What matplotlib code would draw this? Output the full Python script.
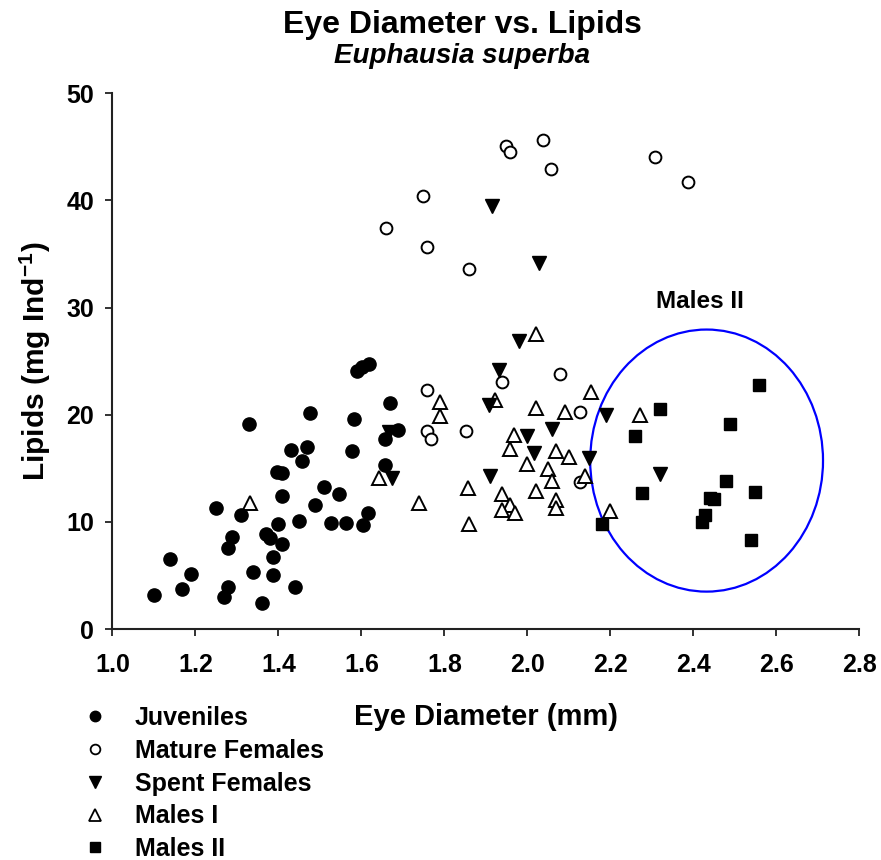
import matplotlib
matplotlib.use("Agg")
import matplotlib.pyplot as plt
from matplotlib.lines import Line2D
from matplotlib.patches import Ellipse

plt.rcParams['font.family'] = ['Liberation Sans', 'DejaVu Sans']
plt.rcParams['font.weight'] = 'bold'
plt.rcParams['mathtext.fontset'] = 'custom'
plt.rcParams['mathtext.rm'] = 'Liberation Sans:bold'
plt.rcParams['mathtext.bf'] = 'Liberation Sans:bold'
plt.rcParams['mathtext.it'] = 'Liberation Sans:bold:italic'

# ---------------- data ----------------
juv_x = [1.329, 1.476, 1.430, 1.468, 1.458, 1.397, 1.410, 1.409, 1.489, 1.250,
         1.309, 1.399, 1.449, 1.289, 1.279, 1.370, 1.379, 1.409, 1.388, 1.139,
         1.190, 1.339, 1.388, 1.169, 1.279, 1.269, 1.439, 1.100, 1.360, 1.590,
         1.602, 1.619, 1.668, 1.583, 1.689, 1.658, 1.578, 1.658, 1.509, 1.547,
         1.528, 1.562, 1.615, 1.603]
juv_y = [19.16, 20.2, 16.7, 17.0, 15.7, 14.7, 14.55, 12.4, 11.6, 11.3,
         10.65, 9.78, 10.1, 8.6, 7.6, 8.85, 8.47, 7.9, 6.76, 6.54,
         5.1, 5.3, 5.05, 3.74, 3.9, 3.0, 3.95, 3.18, 2.46, 24.05,
         24.45, 24.7, 21.06, 19.6, 18.6, 17.7, 16.6, 15.3, 13.3, 12.6,
         9.93, 9.93, 10.8, 9.7]

mat_x = [1.948, 1.958, 2.037, 2.057, 2.307, 2.387, 1.749, 1.659, 1.758, 1.859,
         1.758, 1.758, 1.769, 1.852, 1.938, 2.078, 2.127, 2.127]
mat_y = [45.1, 44.5, 45.6, 42.9, 44.06, 41.7, 40.4, 37.4, 35.7, 33.6,
         22.3, 18.5, 17.7, 18.5, 23.05, 23.8, 20.3, 13.7]

spent_x = [1.916, 2.029, 1.979, 1.931, 1.907, 1.999, 2.059, 2.017, 2.149, 1.909,
           2.190, 2.319, 1.667, 1.675]
spent_y = [39.5, 34.2, 26.9, 24.2, 20.9, 17.97, 18.7, 16.4, 15.95, 14.25,
           20.0, 14.45, 18.4, 14.1]

m1_x = [1.740, 1.642, 1.790, 1.790, 2.021, 1.921, 2.021, 2.090, 2.154, 1.969,
        1.959, 2.070, 2.100, 1.999, 2.049, 2.059, 2.140, 1.856, 1.939, 2.021,
        2.070, 2.070, 1.959, 1.939, 1.971, 1.860, 2.200, 2.271, 1.332]
m1_y = [11.75, 14.1, 21.2, 19.9, 27.5, 21.4, 20.6, 20.3, 22.1, 18.07,
        16.8, 16.6, 16.1, 15.4, 14.9, 13.8, 14.3, 13.2, 12.6, 12.9,
        12.0, 11.3, 11.6, 11.1, 10.8, 9.8, 11.0, 20.0, 11.8]

m2_x = [2.319, 2.559, 2.489, 2.259, 2.277, 2.479, 2.440, 2.450, 2.549, 2.429,
        2.420, 2.539, 2.181]
m2_y = [20.56, 22.8, 19.16, 17.97, 12.7, 13.77, 12.27, 12.15, 12.75, 10.6,
        9.97, 8.3, 9.8]

group_labels = ["Juveniles", "Mature Females", "Spent Females", "Males I", "Males II"]
x_ticks = [1.0, 1.2, 1.4, 1.6, 1.8, 2.0, 2.2, 2.4, 2.6, 2.8]
y_ticks = [0, 10, 20, 30, 40, 50]
ellipse_center = (2.432, 15.72)
ellipse_w, ellipse_h = 0.561, 24.46

# ---------------- figure ----------------
fig = plt.figure(figsize=(8.81, 8.6), dpi=100)
ax = fig.add_axes([0.1275, 0.2686, 0.8479, 0.6229])

ax.plot(juv_x, juv_y, 'o', ms=9.5, mfc='black', mec='black', mew=1, ls='none')
ax.plot(mat_x, mat_y, 'o', ms=8.5, mfc='white', mec='black', mew=1.4, ls='none')
ax.plot(m1_x, m1_y, '^', ms=10, mfc='white', mec='black', mew=1.4, ls='none')
ax.plot(spent_x, spent_y, 'v', ms=10, mfc='black', mec='black', mew=1, ls='none')
ax.plot(m2_x, m2_y, 's', ms=9, mfc='black', mec='black', mew=1, ls='none')

ax.add_patch(Ellipse(ellipse_center, ellipse_w, ellipse_h, fill=False,
                     edgecolor='#0000ff', lw=1.6))
ax.text(2.416, 30.6, "Males II", fontsize=17.5, fontweight='bold',
        ha='center', va='center')

ax.set_xlim(1.0, 2.8)
ax.set_ylim(0, 50)
ax.set_xticks(x_ticks)
ax.set_xticklabels([f"{v:.1f}" for v in x_ticks])
ax.set_yticks(y_ticks)
ax.set_yticklabels([str(v) for v in y_ticks])
for s in ['top', 'right']:
    ax.spines[s].set_visible(False)
for s in ['left', 'bottom']:
    ax.spines[s].set_linewidth(1.5)
    ax.spines[s].set_color('#222222')
ax.tick_params(axis='both', direction='out', length=5, width=1.3,
               labelsize=18, color='#222222')
ax.tick_params(axis='x', pad=12)
ax.tick_params(axis='y', pad=8)
for lab in ax.get_xticklabels() + ax.get_yticklabels():
    lab.set_fontweight('bold')

ax.set_xlabel("Eye Diameter (mm)", fontsize=21, fontweight='bold', labelpad=19)
ax.set_ylabel(r"Lipids (mg Ind$^{\mathbf{-1}}$)", fontsize=21.5, fontweight='bold',
              labelpad=10)

fig.text(462 / 881, 1 - 33 / 860, "Eye Diameter vs. Lipids", fontsize=23,
         fontweight='bold', ha='center', va='baseline')
fig.text(462 / 881, 1 - 63 / 860, "Euphausia superba", fontsize=20,
         fontweight='bold', style='italic', ha='center', va='baseline')

handles = [
    Line2D([], [], marker='o', ls='none', ms=7.5, mfc='black', mec='black'),
    Line2D([], [], marker='o', ls='none', ms=7, mfc='white', mec='black', mew=1.3),
    Line2D([], [], marker='v', ls='none', ms=8, mfc='black', mec='black'),
    Line2D([], [], marker='^', ls='none', ms=8, mfc='white', mec='black', mew=1.3),
    Line2D([], [], marker='s', ls='none', ms=7, mfc='black', mec='black'),
]
fig.legend(handles, group_labels, loc='upper left',
           bbox_to_anchor=(82.5 / 881, 1 - 706 / 860), frameon=False,
           prop={'family': ['Liberation Sans'], 'weight': 'bold', 'size': 18},
           handlelength=1.0, handletextpad=1.1, labelspacing=0.35,
           borderpad=0, borderaxespad=0)

fig.savefig("out.png", dpi=100)
